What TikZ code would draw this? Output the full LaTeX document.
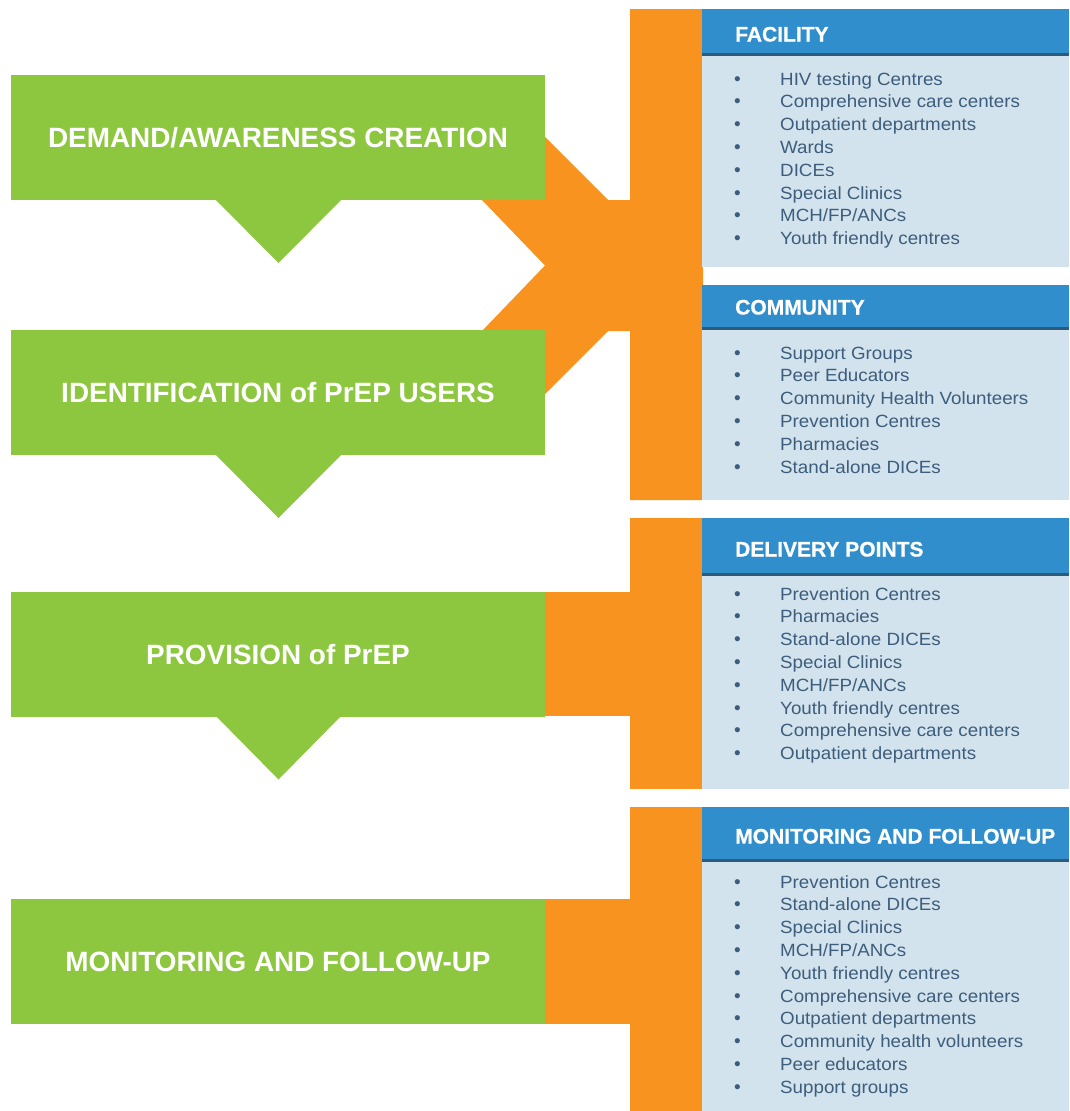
\documentclass[tikz,border=0pt]{standalone}
\usepackage{fontspec}
\setmainfont{Liberation Sans}
\newfontfamily\listfont[FakeStretch=1.06]{Liberation Sans}
\newfontfamily\hdrfont[FakeBold=0.8]{Liberation Sans Bold}
\definecolor{pgreen}{HTML}{8DC63F}
\definecolor{porange}{HTML}{F7931E}
\definecolor{pblue}{HTML}{318ECC}
\definecolor{pbody}{HTML}{D3E3EE}
\definecolor{pline}{HTML}{2C5B7B}
\definecolor{ptext}{HTML}{3C5D7B}
\begin{document}
\begin{tikzpicture}[x=1pt,y=-1pt,
  greenbox/.style={fill=pgreen,draw=none,minimum width=534pt,minimum height=125pt,inner sep=0pt,outer sep=0pt,anchor=north west},
  title/.style={text=white,font=\bfseries\fontsize{27.9}{30}\selectfont,anchor=base,inner sep=0pt},
  hdr/.style={fill=pblue,draw=none,minimum width=367pt,inner sep=0pt,outer sep=0pt,anchor=north west},
  body/.style={fill=pbody,draw=none,minimum width=367pt,inner sep=0pt,outer sep=0pt,anchor=north west},
  hdrtext/.style={text=white,font=\hdrfont\fontsize{21}{24}\selectfont,anchor=base west,inner sep=0pt},
  item/.style={text=ptext,font=\listfont\fontsize{17.7}{20}\selectfont,anchor=base west,inner sep=0pt},
  bul/.style={text=ptext,font=\fontsize{19}{20}\selectfont,anchor=base west,inner sep=0pt},
  hline/.style={draw=pline,line width=3pt}
]
\useasboundingbox (0,0) rectangle (1069,1111);
\fill[white] (0,0) rectangle (1069,1111);

% orange connectors
\fill[porange] (482,200) -- (545,137) -- (608,200) -- (630,200) -- (630,9) -- (702,9) -- (702,200) -- (703,200)
  -- (703,331) -- (702,331) -- (702,500) -- (630,500) -- (630,331) -- (608,331) -- (545,394) -- (482,331) -- (545,265.5) -- cycle;
\fill[porange] (630,518) rectangle (702,789);
\fill[porange] (545,592) rectangle (703,716);
\fill[porange] (630,807) rectangle (702,1111);
\fill[porange] (545,899) rectangle (703,1024);

% green boxes
\node[greenbox] (g1) at (11,75) {};
\node[greenbox] (g2) at (11,330) {};
\node[greenbox] (g3) at (11,592) {};
\node[greenbox,minimum height=125pt] (g4) at (11,899) {};
\fill[pgreen] (215,199) -- (342,199) -- (278.5,263) -- cycle;
\fill[pgreen] (215,454) -- (342,454) -- (278.5,518) -- cycle;
\fill[pgreen] (215,715) -- (342,715) -- (278.5,779.5) -- cycle;
\node[title] (t1) at (278,147.5) {DEMAND/AWARENESS CREATION};
\node[title] (t2) at (278,402) {IDENTIFICATION of PrEP USERS};
\node[title] (t3) at (278,664) {PROVISION of PrEP};
\node[title] (t4) at (278,971) {MONITORING AND FOLLOW-UP};

% panels
\node[hdr,minimum height=45pt] (h1) at (702,9) {};
\node[body,minimum height=213pt] (b1) at (702,54) {};
\draw[hline] (702,54.5) -- (1069,54.5);
\node[hdrtext] (ht1) at (735,41.5) {FACILITY};

\node[hdr,minimum height=44pt] (h2) at (702,285) {};
\node[body,minimum height=172pt] (b2) at (702,328) {};
\draw[hline] (702,328.5) -- (1069,328.5);
\node[hdrtext] (ht2) at (735,314.5) {COMMUNITY};

\node[hdr,minimum height=55pt] (h3) at (702,518) {};
\node[body,minimum height=216pt] (b3) at (702,573) {};
\draw[hline] (702,574) -- (1069,574);
\node[hdrtext] (ht3) at (735,556.5) {DELIVERY POINTS};

\node[hdr,minimum height=53pt] (h4) at (702,807) {};
\node[body,minimum height=251pt] (b4) at (702,860) {};
\draw[hline] (702,860.5) -- (1069,860.5);
\node[hdrtext] (ht4) at (735,843.5) {MONITORING AND FOLLOW-UP};

% lists
\foreach \t [count=\i] in {HIV testing Centres,Comprehensive care centers,Outpatient departments,Wards,DICEs,Special Clinics,MCH/FP/ANCs,Youth friendly centres}{
  \node[bul] (fb\i) at (734,85+22.8*\i-22.8) {•};
  \node[item] (f\i) at (780,85+22.8*\i-22.8) {\t};
}
\foreach \t [count=\i] in {Support Groups,Peer Educators,Community Health Volunteers,Prevention Centres,Pharmacies,Stand-alone DICEs}{
  \node[bul] (cb\i) at (734,359+22.8*\i-22.8) {•};
  \node[item] (c\i) at (780,359+22.8*\i-22.8) {\t};
}
\foreach \t [count=\i] in {Prevention Centres,Pharmacies,Stand-alone DICEs,Special Clinics,MCH/FP/ANCs,Youth friendly centres,Comprehensive care centers,Outpatient departments}{
  \node[bul] (db\i) at (734,600+22.8*\i-22.8) {•};
  \node[item] (d\i) at (780,600+22.8*\i-22.8) {\t};
}
\foreach \t [count=\i] in {Prevention Centres,Stand-alone DICEs,Special Clinics,MCH/FP/ANCs,Youth friendly centres,Comprehensive care centers,Outpatient departments,Community health volunteers,Peer educators,Support groups}{
  \node[bul] (mb\i) at (734,888+22.8*\i-22.8) {•};
  \node[item] (m\i) at (780,888+22.8*\i-22.8) {\t};
}
\end{tikzpicture}
\end{document}
